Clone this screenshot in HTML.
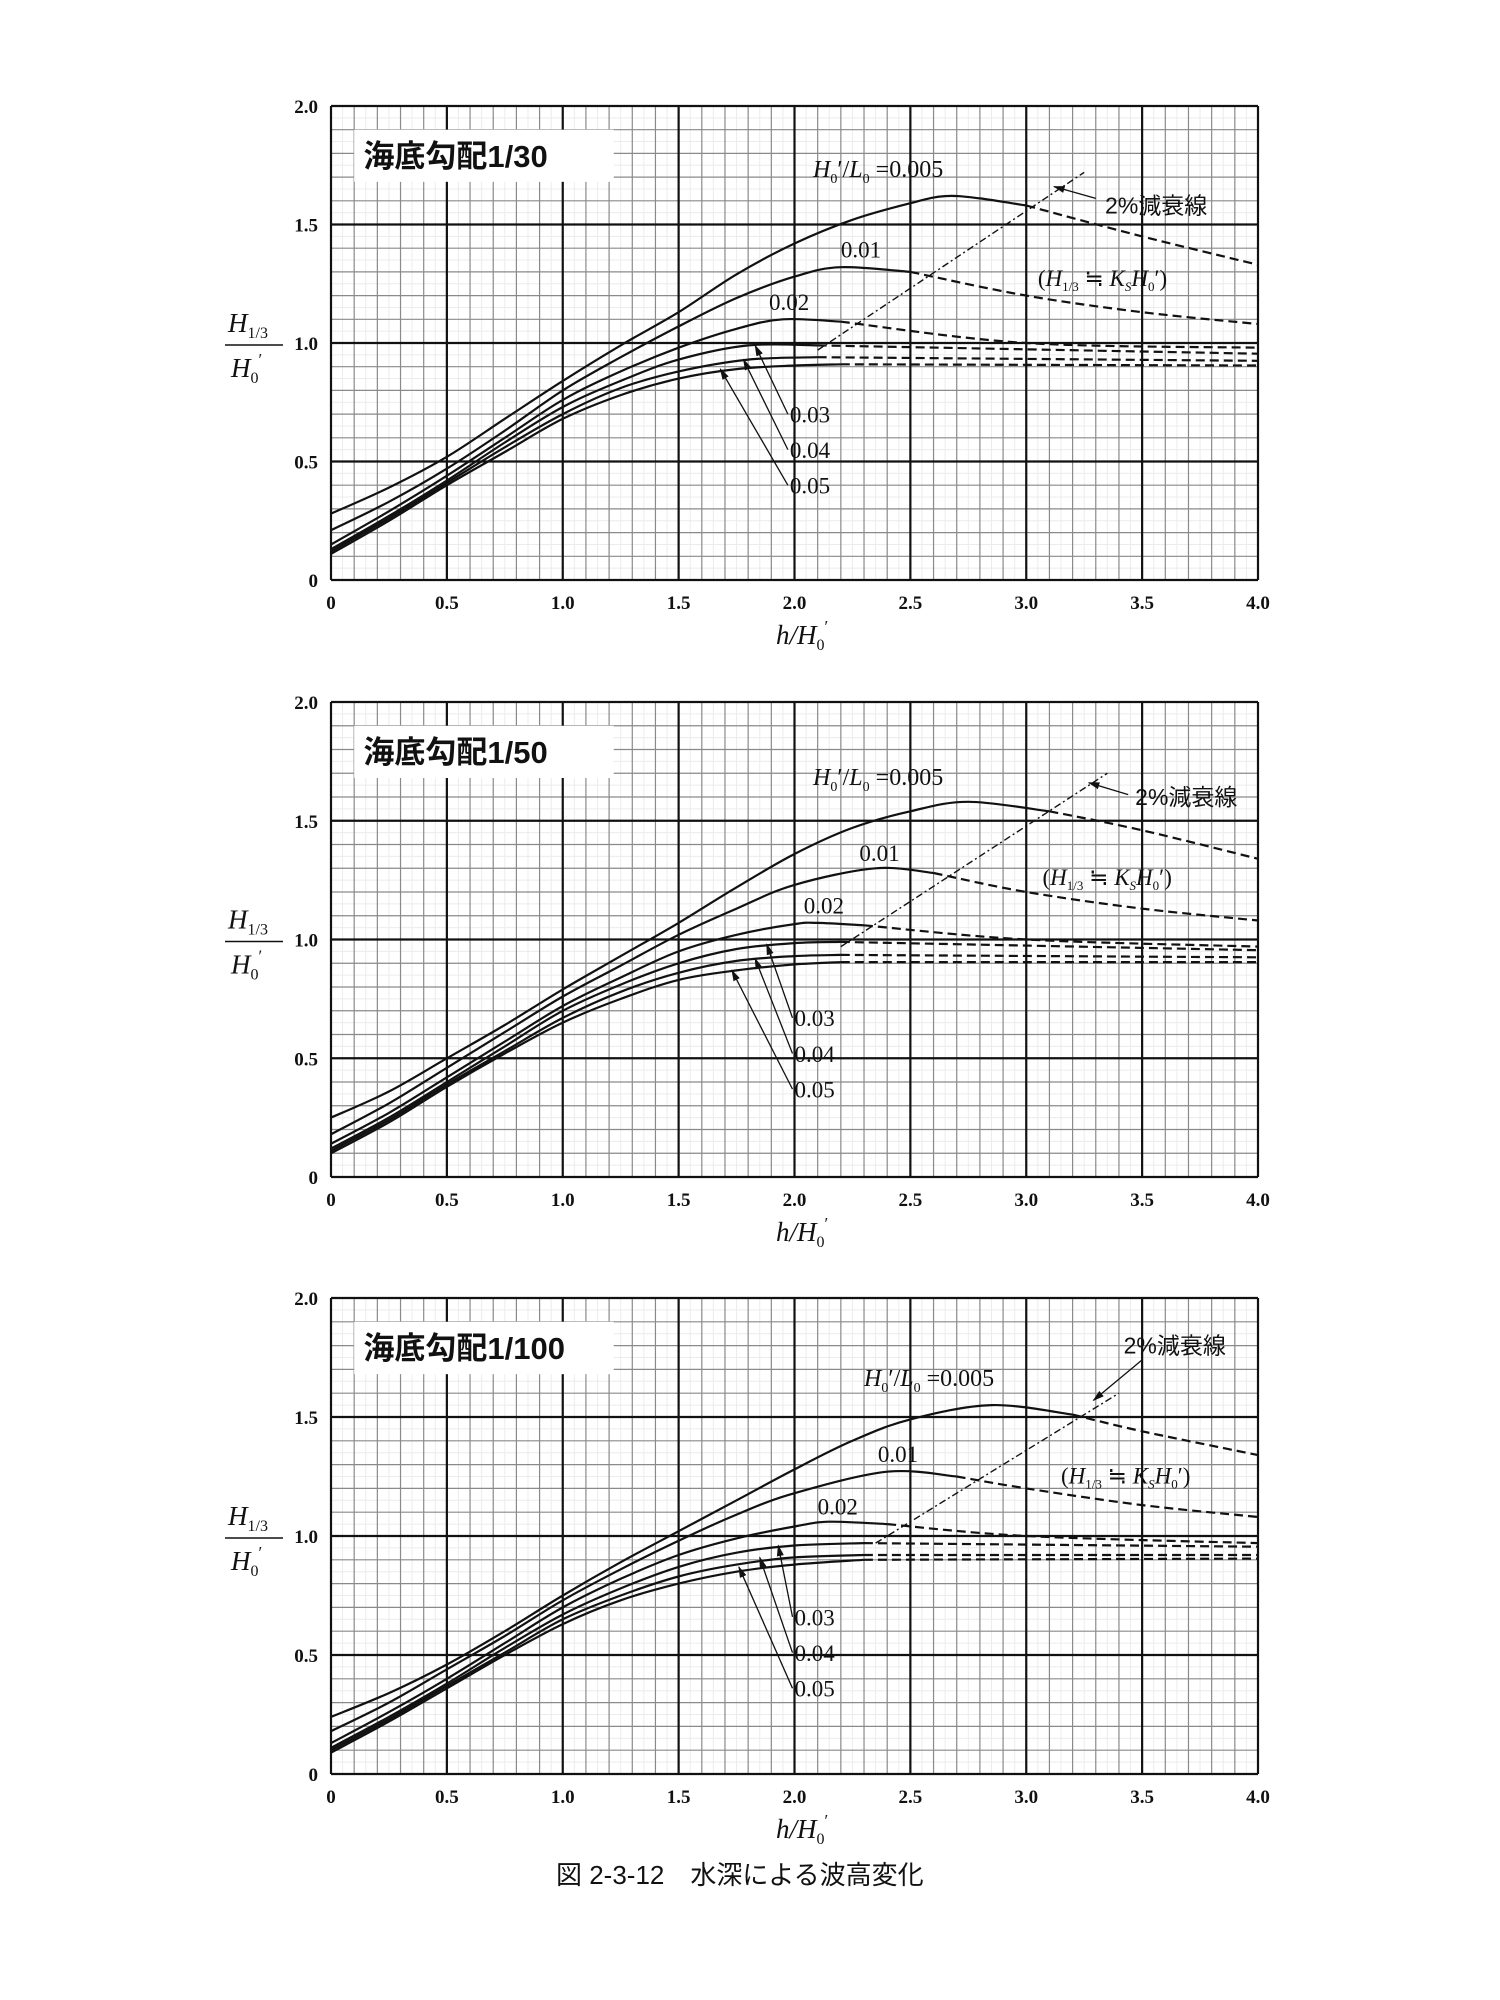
<!DOCTYPE html>
<html><head><meta charset="utf-8"><title>水深による波高変化</title>
<style>
html,body{margin:0;padding:0;background:#fff;}
svg{display:block;}
text{font-family:"Liberation Serif","Noto Serif CJK SC",serif;fill:#111;}
.cjk{font-family:"Liberation Sans","Noto Sans CJK JP",sans-serif;}
</style></head>
<body>
<svg id="fig" width="1500" height="2000" viewBox="0 0 1500 2000" xmlns="http://www.w3.org/2000/svg"></svg>
<script>
// ---------- data ----------
const steepness = ["0.005","0.01","0.02","0.03","0.04","0.05"];
const xTicks = [0,0.5,1.0,1.5,2.0,2.5,3.0,3.5,4.0];
const xTickLabels = ["0","0.5","1.0","1.5","2.0","2.5","3.0","3.5","4.0"];
const yTicks = [0,0.5,1.0,1.5,2.0];
const yTickLabels = ["0","0.5","1.0","1.5","2.0"];
const slopeTitles = ["海底勾配1/30","海底勾配1/50","海底勾配1/100"];

// slope 1/30
const x30_005=[0,.25,.5,.75,1,1.25,1.5,1.75,2,2.25,2.5,2.65,2.8,3.0];
const y30_005=[.28,.39,.52,.68,.84,.99,1.13,1.29,1.42,1.52,1.59,1.62,1.61,1.58];
const dx30_005=[3.0,3.5,4.0]; const dy30_005=[1.58,1.45,1.33];
const x30_01=[0,.25,.5,.75,1,1.25,1.5,1.75,2,2.2,2.5];
const y30_01=[.21,.33,.47,.63,.80,.94,1.07,1.19,1.28,1.32,1.30];
const dx30_01=[2.5,3,3.5,4]; const dy30_01=[1.30,1.20,1.13,1.08];
const x30_02=[0,.25,.5,.75,1,1.25,1.5,1.75,1.95,2.2];
const y30_02=[.15,.29,.44,.60,.76,.88,.98,1.06,1.10,1.09];
const dx30_02=[2.2,3,4]; const dy30_02=[1.09,1.0,.98];
const x30_03=[0,.25,.5,.75,1,1.25,1.5,1.8,2.1];
const y30_03=[.13,.27,.42,.58,.73,.84,.93,.99,.99];
const dx30_03=[2.1,4]; const dy30_03=[.99,.955];
const x30_04=[0,.25,.5,.75,1,1.25,1.5,1.8,2.1];
const y30_04=[.12,.26,.41,.56,.70,.81,.88,.93,.94];
const dx30_04=[2.1,4]; const dy30_04=[.94,.925];
const x30_05=[0,.25,.5,.75,1,1.25,1.5,1.75,2,2.2];
const y30_05=[.11,.25,.40,.54,.68,.78,.85,.89,.905,.91];
const dx30_05=[2.2,4]; const dy30_05=[.91,.905];

// slope 1/50
const x50_005=[0,.25,.5,.75,1,1.25,1.5,1.75,2,2.25,2.5,2.75,3.1];
const y50_005=[.25,.36,.50,.64,.79,.93,1.07,1.22,1.36,1.47,1.54,1.58,1.54];
const dx50_005=[3.1,3.5,4]; const dy50_005=[1.54,1.46,1.34];
const x50_01=[0,.25,.5,.75,1,1.25,1.5,1.75,2,2.35,2.6];
const y50_01=[.18,.31,.46,.61,.76,.89,1.02,1.13,1.23,1.30,1.28];
const dx50_01=[2.6,3,3.5,4]; const dy50_01=[1.28,1.20,1.13,1.08];
const x50_02=[0,.25,.5,.75,1,1.25,1.5,1.75,2,2.1,2.3];
const y50_02=[.14,.27,.42,.57,.72,.84,.95,1.02,1.065,1.07,1.06];
const dx50_02=[2.3,3,4]; const dy50_02=[1.06,1.0,.97];
const x50_03=[0,.25,.5,.75,1,1.25,1.5,1.75,2,2.2];
const y50_03=[.12,.25,.40,.55,.70,.81,.90,.96,.985,.99];
const dx50_03=[2.2,4]; const dy50_03=[.99,.955];
const x50_04=[0,.25,.5,.75,1,1.25,1.5,1.75,2,2.2];
const y50_04=[.11,.24,.39,.53,.67,.78,.86,.91,.93,.935];
const dx50_04=[2.2,4]; const dy50_04=[.935,.925];
const x50_05=[0,.25,.5,.75,1,1.25,1.5,1.75,2,2.2];
const y50_05=[.10,.23,.38,.52,.65,.75,.83,.87,.895,.905];
const dx50_05=[2.2,4]; const dy50_05=[.905,.905];

// slope 1/100
const x100_005=[0,.25,.5,.75,1,1.25,1.5,1.75,2,2.25,2.5,2.85,3.2];
const y100_005=[.24,.34,.46,.60,.75,.89,1.02,1.15,1.28,1.40,1.49,1.55,1.51];
const dx100_005=[3.2,3.5,4]; const dy100_005=[1.51,1.44,1.34];
const x100_01=[0,.25,.5,.75,1,1.25,1.5,1.75,2,2.4,2.7];
const y100_01=[.18,.30,.44,.58,.73,.86,.98,1.09,1.18,1.27,1.25];
const dx100_01=[2.7,3,3.5,4]; const dy100_01=[1.25,1.20,1.13,1.08];
const x100_02=[0,.25,.5,.75,1,1.25,1.5,1.75,2,2.15,2.4];
const y100_02=[.13,.26,.40,.55,.70,.82,.92,.99,1.04,1.06,1.05];
const dx100_02=[2.4,3,4]; const dy100_02=[1.05,1.0,.97];
const x100_03=[0,.25,.5,.75,1,1.25,1.5,1.75,2,2.3];
const y100_03=[.11,.24,.38,.53,.67,.78,.87,.93,.96,.97];
const dx100_03=[2.3,4]; const dy100_03=[.97,.955];
const x100_04=[0,.25,.5,.75,1,1.25,1.5,1.75,2,2.3];
const y100_04=[.10,.23,.37,.51,.65,.75,.83,.88,.91,.92];
const dx100_04=[2.3,4]; const dy100_04=[.92,.92];
const x100_05=[0,.25,.5,.75,1,1.25,1.5,1.75,2,2.3];
const y100_05=[.09,.22,.36,.50,.63,.73,.80,.85,.88,.90];
const dx100_05=[2.3,4]; const dy100_05=[.90,.905];

// 2% decay line endpoints [x0,y0,x1,y1]
const decay30=[2.1,0.97,3.25,1.72];
const decay50=[2.2,0.97,3.35,1.70];
const decay100=[2.35,0.97,3.4,1.6];

const charts=[
 {id:"30",top:106,bottom:580,title:slopeTitles[0],
  solidX:[x30_005,x30_01,x30_02,x30_03,x30_04,x30_05],solidY:[y30_005,y30_01,y30_02,y30_03,y30_04,y30_05],
  dashX:[dx30_005,dx30_01,dx30_02,dx30_03,dx30_04,dx30_05],dashY:[dy30_005,dy30_01,dy30_02,dy30_03,dy30_04,dy30_05],
  decay:decay30, lab005:[2.08,1.70], lab01:[2.2,1.36], lab02:[1.89,1.14], labSmall:[1.98,0.70,0.55,0.40],
  tips:[[1.83,0.99],[1.78,0.93],[1.68,0.89]], lab2:[3.34,1.58], arrow2:[3.3,1.61,3.12,1.66], labKs:[3.05,1.24]},
 {id:"50",top:702,bottom:1177,title:slopeTitles[1],
  solidX:[x50_005,x50_01,x50_02,x50_03,x50_04,x50_05],solidY:[y50_005,y50_01,y50_02,y50_03,y50_04,y50_05],
  dashX:[dx50_005,dx50_01,dx50_02,dx50_03,dx50_04,dx50_05],dashY:[dy50_005,dy50_01,dy50_02,dy50_03,dy50_04,dy50_05],
  decay:decay50, lab005:[2.08,1.65], lab01:[2.28,1.33], lab02:[2.04,1.11], labSmall:[2.0,0.67,0.52,0.37],
  tips:[[1.88,0.98],[1.83,0.92],[1.73,0.87]], lab2:[3.47,1.60], arrow2:[3.44,1.61,3.27,1.66], labKs:[3.07,1.23]},
 {id:"100",top:1298,bottom:1774,title:slopeTitles[2],
  solidX:[x100_005,x100_01,x100_02,x100_03,x100_04,x100_05],solidY:[y100_005,y100_01,y100_02,y100_03,y100_04,y100_05],
  dashX:[dx100_005,dx100_01,dx100_02,dx100_03,dx100_04,dx100_05],dashY:[dy100_005,dy100_01,dy100_02,dy100_03,dy100_04,dy100_05],
  decay:decay100, lab005:[2.3,1.63], lab01:[2.36,1.31], lab02:[2.1,1.09], labSmall:[2.0,0.66,0.51,0.36],
  tips:[[1.93,0.96],[1.85,0.91],[1.76,0.87]], lab2:[3.42,1.80], arrow2:[3.5,1.74,3.29,1.57], labKs:[3.15,1.22]}
];

// ---------- drawing ----------
const NS="http://www.w3.org/2000/svg";
const svg=document.getElementById('fig');
const X0=331, X1=1258;
function mk(tag,attrs,parent){const e=document.createElementNS(NS,tag);for(const k in attrs)e.setAttribute(k,attrs[k]);(parent||svg).appendChild(e);return e;}
function smooth(pts){
  let d="M"+pts[0][0].toFixed(1)+","+pts[0][1].toFixed(1);
  for(let i=0;i<pts.length-1;i++){
    const p0=pts[i-1]||pts[i],p1=pts[i],p2=pts[i+1],p3=pts[i+2]||p2;
    const c1=[p1[0]+(p2[0]-p0[0])/6,p1[1]+(p2[1]-p0[1])/6];
    const c2=[p2[0]-(p3[0]-p1[0])/6,p2[1]-(p3[1]-p1[1])/6];
    d+=" C"+c1[0].toFixed(1)+","+c1[1].toFixed(1)+" "+c2[0].toFixed(1)+","+c2[1].toFixed(1)+" "+p2[0].toFixed(1)+","+p2[1].toFixed(1);
  }
  return d;
}
mk('defs',{}).innerHTML='<marker id="ah" viewBox="0 0 10 10" refX="9" refY="5" markerWidth="9" markerHeight="9" orient="auto-start-reverse"><path d="M0,2 L10,5 L0,8 z" fill="#111"/></marker>';

charts.forEach(c=>{
  const g=mk('g',{});
  
  
  const sx=v=>X0+(X1-X0)*v/4;
  const sy=v=>c.bottom-(c.bottom-c.top)*v/2;
  // faint grid 0.05
  for(let i=1;i<80;i++){ if(i%2===0)continue; const x=sx(i*0.05); mk('line',{x1:x,y1:c.top,x2:x,y2:c.bottom,stroke:'#ececec','stroke-width':1},g);}
  for(let i=1;i<40;i++){ if(i%2===0)continue; const y=sy(i*0.05); mk('line',{x1:X0,y1:y,x2:X1,y2:y,stroke:'#ececec','stroke-width':1},g);}
  // minor 0.1
  for(let i=1;i<40;i++){ if(i%5===0)continue; const x=sx(i*0.1); mk('line',{x1:x,y1:c.top,x2:x,y2:c.bottom,stroke:'#8a8a8a','stroke-width':1.2},g);}
  for(let i=1;i<20;i++){ if(i%5===0)continue; const y=sy(i*0.1); mk('line',{x1:X0,y1:y,x2:X1,y2:y,stroke:'#8a8a8a','stroke-width':1.2},g);}
  // major
  xTicks.forEach((v,i)=>{const x=sx(v);const l=mk('line',{x1:x,y1:c.top,x2:x,y2:c.bottom,stroke:'#111','stroke-width':2.2},g);
    
    const t=mk('text',{x:x,y:c.bottom+29,'text-anchor':'middle','font-size':19,'font-weight':'bold'},g);t.textContent=xTickLabels[i];
    });
  yTicks.forEach((v,i)=>{const y=sy(v);const l=mk('line',{x1:X0,y1:y,x2:X1,y2:y,stroke:'#111','stroke-width':2.2},g);
    
    const t=mk('text',{x:318,y:y+7,'text-anchor':'end','font-size':19,'font-weight':'bold'},g);t.textContent=yTickLabels[i];
    });
  // title
  mk('rect',{x:sx(0.1),y:sy(1.9),width:sx(1.22)-sx(0.1),height:sy(1.68)-sy(1.9),fill:'#fff'},g);
  const tt=mk('text',{x:sx(0.14),y:sy(1.79)+11,'font-size':31,'font-weight':'bold','class':'cjk'},g);tt.textContent=c.title;
  
  // curves
  c.solidX.forEach((xs,k)=>{
    const pts=xs.map((x,i)=>[sx(x),sy(c.solidY[k][i])]);
    const p=mk('path',{d:smooth(pts),fill:'none',stroke:'#111','stroke-width':2.2},g);
    
    
    const dpts=c.dashX[k].map((x,i)=>[sx(x),sy(c.dashY[k][i])]);
    const dp=mk('path',{d:smooth(dpts),fill:'none',stroke:'#111','stroke-width':2.2,'stroke-dasharray':'9,5'},g);
    
    
  });
  // 2% decay line
  const dl=mk('line',{x1:sx(c.decay[0]),y1:sy(c.decay[1]),x2:sx(c.decay[2]),y2:sy(c.decay[3]),stroke:'#111','stroke-width':1.4,'stroke-dasharray':'7,3,2,3'},g);
  
  
  // labels
  const L=(txt,pos,name,size)=>{const t=mk('text',{x:sx(pos[0]),y:sy(pos[1]),'font-size':size||23},g);t.innerHTML=txt;
    return t;};
  L('<tspan font-style="italic">H</tspan><tspan font-size="14" dy="6">0</tspan><tspan dy="-6">′/</tspan><tspan font-style="italic">L</tspan><tspan font-size="14" dy="6">0</tspan><tspan dy="-6"> =0.005</tspan>',c.lab005,'label-0.005',24);
  L('0.01',c.lab01,'label-0.01');
  L('0.02',c.lab02,'label-0.02');
  const ls=c.labSmall;
  ['0.03','0.04','0.05'].forEach((s,i)=>{
    const y=ls[1+i];
    L(s,[ls[0],y-0.035],'label-'+s);
    const a=mk('line',{x1:sx(ls[0])-2,y1:sy(y),x2:sx(c.tips[i][0]),y2:sy(c.tips[i][1]),stroke:'#111','stroke-width':1.3,'marker-end':'url(#ah)'},g);
    
  });
  const t2=mk('text',{x:sx(c.lab2[0]),y:sy(c.lab2[1])+8,'font-size':23,'class':'cjk'},g);t2.textContent='2%減衰線';
  
  const a2=mk('line',{x1:sx(c.arrow2[0]),y1:sy(c.arrow2[1]),x2:sx(c.arrow2[2]),y2:sy(c.arrow2[3]),stroke:'#111','stroke-width':1.3,'marker-end':'url(#ah)'},g);
  
  L('(<tspan font-style="italic">H</tspan><tspan font-size="13" dy="5">1/3</tspan><tspan dy="-5"> ≒ </tspan><tspan font-style="italic">K</tspan><tspan font-size="13" dy="5" font-style="italic">S</tspan><tspan dy="-5" font-style="italic">H</tspan><tspan font-size="13" dy="5">0</tspan><tspan dy="-5">′)</tspan>',c.labKs,'shoaling-label',23);
  // y-axis title
  const y1=sy(1.0);
  const ya=mk('g',{},g);
  mk('text',{x:228,y:y1-11,'font-size':27,'font-style':'italic'},ya).innerHTML='H<tspan font-size="16" font-style="normal" dy="6">1/3</tspan>';
  mk('line',{x1:225,y1:y1+2,x2:283,y2:y1+2,stroke:'#111','stroke-width':1.6},ya);
  mk('text',{x:231,y:y1+34,'font-size':27,'font-style':'italic'},ya).innerHTML='H<tspan font-size="16" font-style="normal" dy="6">0</tspan><tspan font-size="17" font-style="normal" dy="-18">′</tspan>';
  // x-axis title
  const xa=mk('text',{x:sx(1.92),y:c.bottom+64,'font-size':27,'font-style':'italic'},g);
  xa.innerHTML='h/H<tspan font-size="16" font-style="normal" dy="6">0</tspan><tspan font-size="17" font-style="normal" dy="-18">′</tspan>';
  
});
const cap=mk('text',{x:556,y:1884,'font-size':26,'class':'cjk'});
cap.textContent='図 2-3-12　水深による波高変化';


</script>
</body></html>
